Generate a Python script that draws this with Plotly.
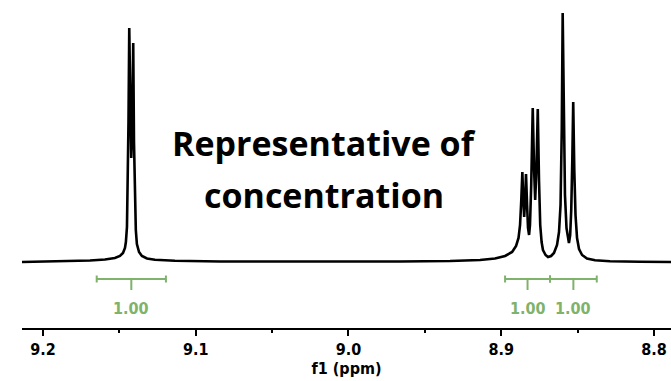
import plotly.graph_objects as go

# Spectrum: chemical shift (ppm) and intensity (arb., baseline = 0)
ppm = [
    9.2137, 9.1889, 9.1692, 9.1594, 9.1529, 9.1496, 9.1476, 9.1463, 9.1457, 9.1450,
    9.1445, 9.1440, 9.1435, 9.1428, 9.1422, 9.1415, 9.1409, 9.1404, 9.1398, 9.1392,
    9.1385, 9.1371, 9.1352, 9.1319, 9.1267, 9.1136, 9.0841, 9.0317, 8.9663, 8.9335,
    8.9139, 8.9041, 8.8975, 8.8929, 8.8903, 8.8887, 8.8877, 8.8869, 8.8862, 8.8856,
    8.8850, 8.8844, 8.8838, 8.8831, 8.8825, 8.8818, 8.8812, 8.8804, 8.8794, 8.8785,
    8.8778, 8.8770, 8.8761, 8.8753, 8.8745, 8.8736, 8.8727, 8.8710, 8.8694, 8.8674,
    8.8655, 8.8635, 8.8622, 8.8612, 8.8604, 8.8598, 8.8591, 8.8583, 8.8573, 8.8563,
    8.8557, 8.8549, 8.8542, 8.8535, 8.8529, 8.8522, 8.8514, 8.8504, 8.8491, 8.8471,
    8.8439, 8.8386, 8.8288, 8.8092, 8.7889,
]
intensity = [
    0.0, 0.5, 1.5, 2.5, 4, 6, 9, 14, 20, 35,
    70, 140, 234, 140, 104, 140, 219, 120, 60, 32,
    18, 10, 6, 3.5, 2.2, 1.2, 0.5, 0.2, 0.5, 1,
    2, 3.5, 6, 10, 16, 24, 37, 62, 90, 62,
    45, 62, 88, 57, 34, 27, 37, 77, 154, 92,
    62, 92, 153, 82, 37, 20, 12, 7, 5, 6,
    9, 17, 30, 57, 132, 249, 142, 67, 34, 22,
    19, 27, 52, 102, 160, 92, 47, 24, 13, 7,
    3.5, 1.7, 0.8, 0.2, 0.0,
]

# Integration regions (ppm) and values
integral_start = [9.1648, 8.8975, 8.8681]
integral_end = [9.1195, 8.8681, 8.8375]
integral_value = ["1.00", "1.00", "1.00"]

tick_values = [9.2, 9.1, 9.0, 8.9, 8.8]
tick_labels = ["9.2", "9.1", "9.0", "8.9", "8.8"]

GREEN = "#7fb26a"
AXFONT = "DejaVu Sans Condensed, DejaVu Sans"

fig = go.Figure()
fig.add_trace(go.Scatter(
    x=ppm, y=intensity, mode="lines",
    line=dict(color="black", width=2.6), hoverinfo="skip", showlegend=False,
))

shapes = []
for s, e, v in zip(integral_start, integral_end, integral_value):
    mid = (s + e) / 2
    shapes.append(dict(type="line", xref="x", yref="y", x0=s, x1=e, y0=-17, y1=-17,
                       line=dict(color=GREEN, width=2)))
    for xe in (s, e):
        shapes.append(dict(type="line", xref="x", yref="y", x0=xe, x1=xe, y0=-13.5, y1=-20.5,
                           line=dict(color=GREEN, width=2)))
    shapes.append(dict(type="line", xref="x", yref="y", x0=mid, x1=mid, y0=-17, y1=-28,
                       line=dict(color=GREEN, width=2)))
    fig.add_annotation(x=mid, y=-46, xref="x", yref="y", text=v, showarrow=False,
                       font=dict(family=AXFONT, size=16, color=GREEN, weight="bold"),
                       xanchor="center", yanchor="middle")

fig.add_annotation(x=(323.5 - 22) / 649, y=1 - 143 / 328, xref="paper", yref="paper",
                   text="Representative of", showarrow=False,
                   font=dict(family="Open Sans", size=34, color="black", weight="bold"),
                   xanchor="center", yanchor="middle")
fig.add_annotation(x=(323.5 - 22) / 649, y=1 - 195 / 328, xref="paper", yref="paper",
                   text="concentration", showarrow=False,
                   font=dict(family="Open Sans", size=34, color="black", weight="bold"),
                   xanchor="center", yanchor="middle")

fig.update_layout(
    width=671, height=381,
    margin=dict(l=22, r=0, t=0, b=53),
    paper_bgcolor="white", plot_bgcolor="white",
    shapes=shapes,
    xaxis=dict(
        range=[9.2137, 8.7889],
        showgrid=False, zeroline=False,
        showline=True, linecolor="black", linewidth=2,
        ticks="outside", ticklen=6, tickwidth=2, tickcolor="black",
        tickvals=tick_values, ticktext=tick_labels,
        tickfont=dict(family=AXFONT, size=16, color="black", weight="bold"),
        minor=dict(ticks="outside", ticklen=3, tickwidth=2, tickcolor="black", dtick=0.05, tick0=9.0),
        title=dict(text="f1 (ppm)", standoff=5,
                   font=dict(family=AXFONT, size=16, color="black", weight="bold")),
    ),
    yaxis=dict(visible=False, range=[-66, 262]),
)

fig.write_html("out.html")
